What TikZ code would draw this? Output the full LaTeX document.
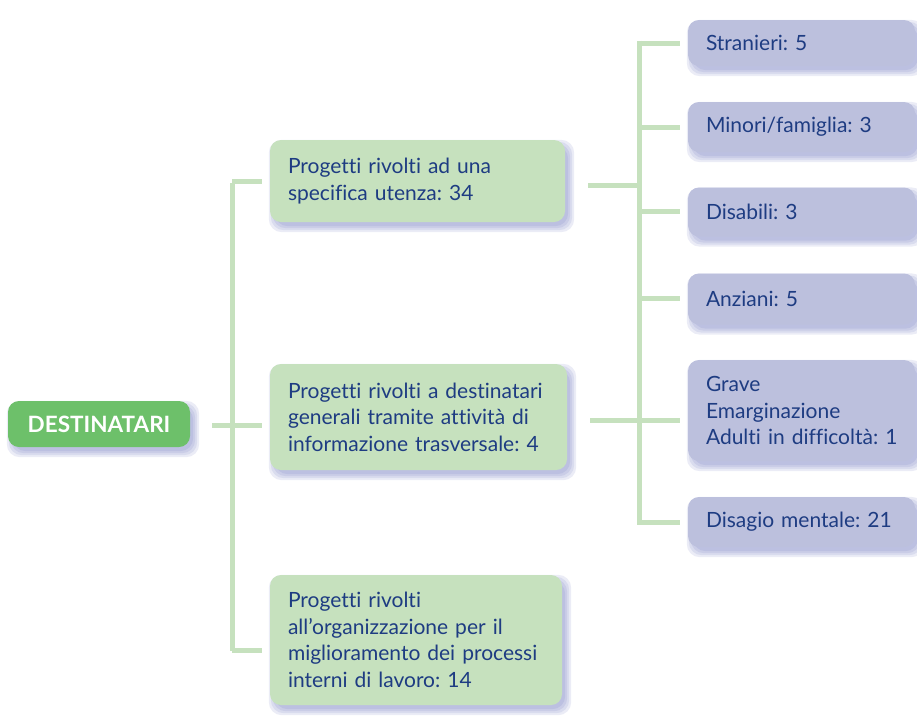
\documentclass[tikz,border=0pt]{standalone}
\usepackage{fontspec}
\setmainfont{Lato}[Ligatures=NoCommon]
\usetikzlibrary{backgrounds}
\definecolor{dgreen}{HTML}{6DC06A}
\definecolor{lgreen}{HTML}{C6E1BE}
\definecolor{lpurple}{HTML}{BCC0DD}
\definecolor{txt}{HTML}{1E3C82}
\definecolor{shad}{HTML}{5A64B4}
\frenchspacing
\hbadness=10000 \hfuzz=100pt
\tikzset{
  base/.style={rounded corners=11pt, inner xsep=18pt, inner ysep=4pt, align=left,
    font=\fontsize{21}{26.5}\selectfont, text=txt},
  root/.style={base, fill=dgreen, text=white, font=\bfseries\fontsize{22.5}{22}\selectfont,
    minimum width=182pt, minimum height=46pt, align=center, inner xsep=4pt},
  gbox/.style={base, fill=lgreen, text width=#1},
  pbox/.style={base, fill=lpurple, text width=191pt, minimum height=#1},
  conn/.style={draw=lgreen, line width=5pt},
  shadlayer/.style={fill=shad, opacity=0.12, rounded corners=13pt}
}
\begin{document}
\begin{tikzpicture}[x=1pt,y=-1pt]
\useasboundingbox (0,0) rectangle (917,716);
\node[root] (d) at (99,424) {DESTINATARI};
\node[gbox=259pt, minimum height=82pt] (b1) at (417.5,181) {Progetti rivolti ad una\\specifica utenza: 34};
\node[gbox=261pt, minimum height=106pt] (b2) at (418.5,417) {Progetti rivolti a destinatari\\generali tramite attività di\\informazione trasversale: 4};
\node[gbox=256pt, minimum height=130pt] (b3) at (416,640) {Progetti rivolti\\all’organizzazione per il\\miglioramento dei processi\\interni di lavoro: 14};
\node[pbox=46pt] (p1) at (801.5,43) {Stranieri: 5};
\node[pbox=50pt] (p2) at (801.5,127) {Minori/famiglia: 3};
\node[pbox=49pt] (p3) at (801.5,212) {Disabili: 3};
\node[pbox=51pt] (p4) at (801.5,299) {Anziani: 5};
\node[pbox=101pt] (p5) at (801.5,410.5) {Grave\\Emarginazione\\\mbox{Adulti in difficoltà: 1}};
\node[pbox=50pt] (p6) at (801.5,522) {Disagio mentale: 21};
% soft shadows
\begin{scope}[on background layer]
\foreach \n in {d,b1,b2,b3,p1,p2,p3,p4,p5,p6}{
  \foreach \e in {-1,1,3,5}{
    \fill[shadlayer] ([shift={(4-\e,5+\e)}]\n.south west) rectangle ([shift={(4+\e,5-\e)}]\n.north east);
  }
}
\end{scope}
% left connectors
\coordinate (lt) at (232,183);
\coordinate (lb) at (232,650.5);
\draw[conn] (lt) -- (lb);
\draw[conn] (d.east |- 0,425) ++(22,0) -- (262,425);
\draw[conn] (lt |- b1.west) -- ([xshift=-8pt]b1.west);
\draw[conn] (lb) -- ([xshift=-8pt]b3.west |- lb);
% right connectors
\coordinate (rt) at (639,40.5);
\coordinate (rb) at (639,525);
\draw[conn] (rt) -- (rb);
\draw[conn] ([xshift=23pt]b1.east |- 0,185) -- (639,185);
\draw[conn] ([xshift=23pt]b2.east |- 0,420) -- ([xshift=-8pt]p5.west |- 0,420);
\foreach \p/\yy in {p1/43,p2/127,p3/211,p4/298,p6/522}{
  \draw[conn] (639,\yy) -- ([xshift=-8pt]\p.west |- 0,\yy);
}
\end{tikzpicture}
\end{document}
